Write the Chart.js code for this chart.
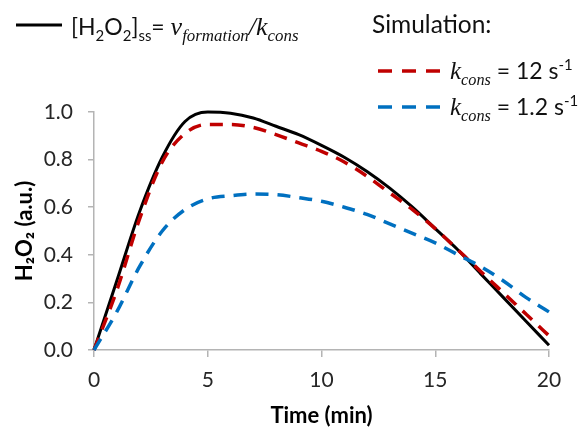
<!DOCTYPE html>
<html>
<head>
<meta charset="utf-8">
<script src="https://cdn.jsdelivr.net/npm/chart.js@4"></script>
<style>
  body { margin: 0; background: #fff; }
  #wrap { position: relative; width: 587px; height: 427px; }
  #chart { position: absolute; left: 0; top: 0; }
  .lg { position: absolute; white-space: nowrap; color: #111; font-family: Lato, "Open Sans", sans-serif; font-size: 23px; line-height: 1; }
  .it { font-family: "Liberation Serif", "DejaVu Serif", serif; font-style: italic; }
  .lg sub, .lg sup { font-size: 65%; line-height: 0; }
  .swatch { position: absolute; }
</style>
</head>
<body>
<div id="wrap">
  <canvas id="chart" width="587" height="427"></canvas>

  <!-- legend, drawn as html because of the sub/superscripts -->
  <svg class="swatch" style="left:16px;top:20px" width="46" height="10"><line x1="0" y1="5" x2="46" y2="5" stroke="#000" stroke-width="3"/></svg>
  <div class="lg" style="left:71px;top:14px">[H<sub>2</sub>O<sub>2</sub>]<sub>ss</sub>= <span class="it" style="font-size:26px">v<sub>formation</sub>/k<sub>cons</sub></span></div>

  <div class="lg" style="left:372px;top:12px;font-size:24.5px">Simulation:</div>

  <svg class="swatch" style="left:378px;top:66px" width="62" height="10"><line x1="0" y1="5" x2="62" y2="5" stroke="#c00000" stroke-width="3.5" stroke-dasharray="14 10"/></svg>
  <div class="lg" style="left:450px;top:58px"><span class="it" style="font-size:25px">k<sub>cons</sub></span> = 12 s<sup>-1</sup></div>

  <svg class="swatch" style="left:378px;top:102px" width="62" height="10"><line x1="0" y1="5" x2="62" y2="5" stroke="#0070c0" stroke-width="3.5" stroke-dasharray="14 10"/></svg>
  <div class="lg" style="left:450px;top:94px"><span class="it" style="font-size:25px">k<sub>cons</sub></span> = 1.2 s<sup>-1</sup></div>
</div>

<script>
// time axis (min)
var time = [0, 1, 2, 3, 4, 5, 6, 7, 8, 9, 10, 11, 12, 13, 14, 15, 16, 17, 18, 19, 20];

// [H2O2]ss = v_formation / k_cons
var steadyState = [0, 0.29, 0.58, 0.81, 0.96, 1.0, 0.995, 0.975, 0.94, 0.905, 0.86, 0.81, 0.75, 0.68, 0.60, 0.51, 0.42, 0.32, 0.22, 0.12, 0.02];
// simulation, k_cons = 12 s-1
var sim12 = [0, 0.25, 0.55, 0.79, 0.91, 0.948, 0.948, 0.935, 0.905, 0.87, 0.835, 0.79, 0.73, 0.66, 0.59, 0.51, 0.42, 0.33, 0.24, 0.15, 0.06];
// simulation, k_cons = 1.2 s-1
var sim1_2 = [0, 0.16, 0.35, 0.50, 0.59, 0.635, 0.648, 0.655, 0.653, 0.64, 0.625, 0.60, 0.57, 0.53, 0.49, 0.45, 0.40, 0.35, 0.29, 0.22, 0.16];

var xTicks = [0, 5, 10, 15, 20];
var yTicks = [0, 0.2, 0.4, 0.6, 0.8, 1.0];
var yTickLabels = ["0.0", "0.2", "0.4", "0.6", "0.8", "1.0"];

function points(values) {
  return time.map(function (t, i) { return { x: t, y: values[i] }; });
}

var axisColor = "#b4b4b4";
var tickFont = { family: "Lato, 'Open Sans', sans-serif", size: 21 };
var titleFont = { family: "Lato, 'Open Sans', sans-serif", size: 22, weight: "bold", lineHeight: 1 };

var ctx = document.getElementById("chart");
var chart = new Chart(ctx, {
  type: "line",
  data: {
    datasets: [
      {
        label: "k_cons = 1.2 s-1",
        data: points(sim1_2),
        borderColor: "#0070c0",
        borderWidth: 3.5,
        borderDash: [13, 9],
        pointRadius: 0,
        cubicInterpolationMode: "monotone",
        clip: false
      },
      {
        label: "k_cons = 12 s-1",
        data: points(sim12),
        borderColor: "#c00000",
        borderWidth: 3.5,
        borderDash: [13, 9],
        pointRadius: 0,
        cubicInterpolationMode: "monotone",
        clip: false
      },
      {
        label: "[H2O2]ss",
        data: points(steadyState),
        borderColor: "#000000",
        borderWidth: 3,
        pointRadius: 0,
        cubicInterpolationMode: "monotone",
        clip: false
      }
    ]
  },
  options: {
    responsive: false,
    animation: false,
    events: [],
    layout: { padding: { top: 112, right: 38, left: 0, bottom: 0 } },
    plugins: {
      legend: { display: false },
      tooltip: { enabled: false }
    },
    scales: {
      x: {
        type: "linear",
        min: 0,
        max: 20,
        afterBuildTicks: function (scale) {
          scale.ticks = xTicks.map(function (v) { return { value: v }; });
        },
        afterFit: function (scale) { scale.height = 77; },
        grid: { drawOnChartArea: false, drawTicks: true, tickLength: 7, color: axisColor, lineWidth: 1.5 },
        border: { display: true, color: axisColor, width: 1.5 },
        ticks: { font: tickFont, color: "#262626", padding: 11, maxRotation: 0 },
        title: {
          display: true,
          text: "Time (min)",
          color: "#000",
          font: titleFont,
          padding: { top: 0, bottom: 0 }
        }
      },
      y: {
        min: 0,
        max: 1.0,
        afterBuildTicks: function (scale) {
          scale.ticks = yTicks.map(function (v) { return { value: v }; });
        },
        afterFit: function (scale) { scale.width = 94; },
        grid: { drawOnChartArea: false, drawTicks: true, tickLength: 6, color: axisColor, lineWidth: 1.5 },
        border: { display: true, color: axisColor, width: 1.5 },
        ticks: {
          font: tickFont,
          color: "#262626",
          padding: 15,
          callback: function (value, index) { return yTickLabels[index]; }
        },
        title: {
          display: true,
          text: "H\u2082O\u2082 (a.u.)",
          color: "#000",
          font: titleFont,
          padding: { top: 14, bottom: 0 }
        }
      }
    }
  }
});
</script>
</body>
</html>
